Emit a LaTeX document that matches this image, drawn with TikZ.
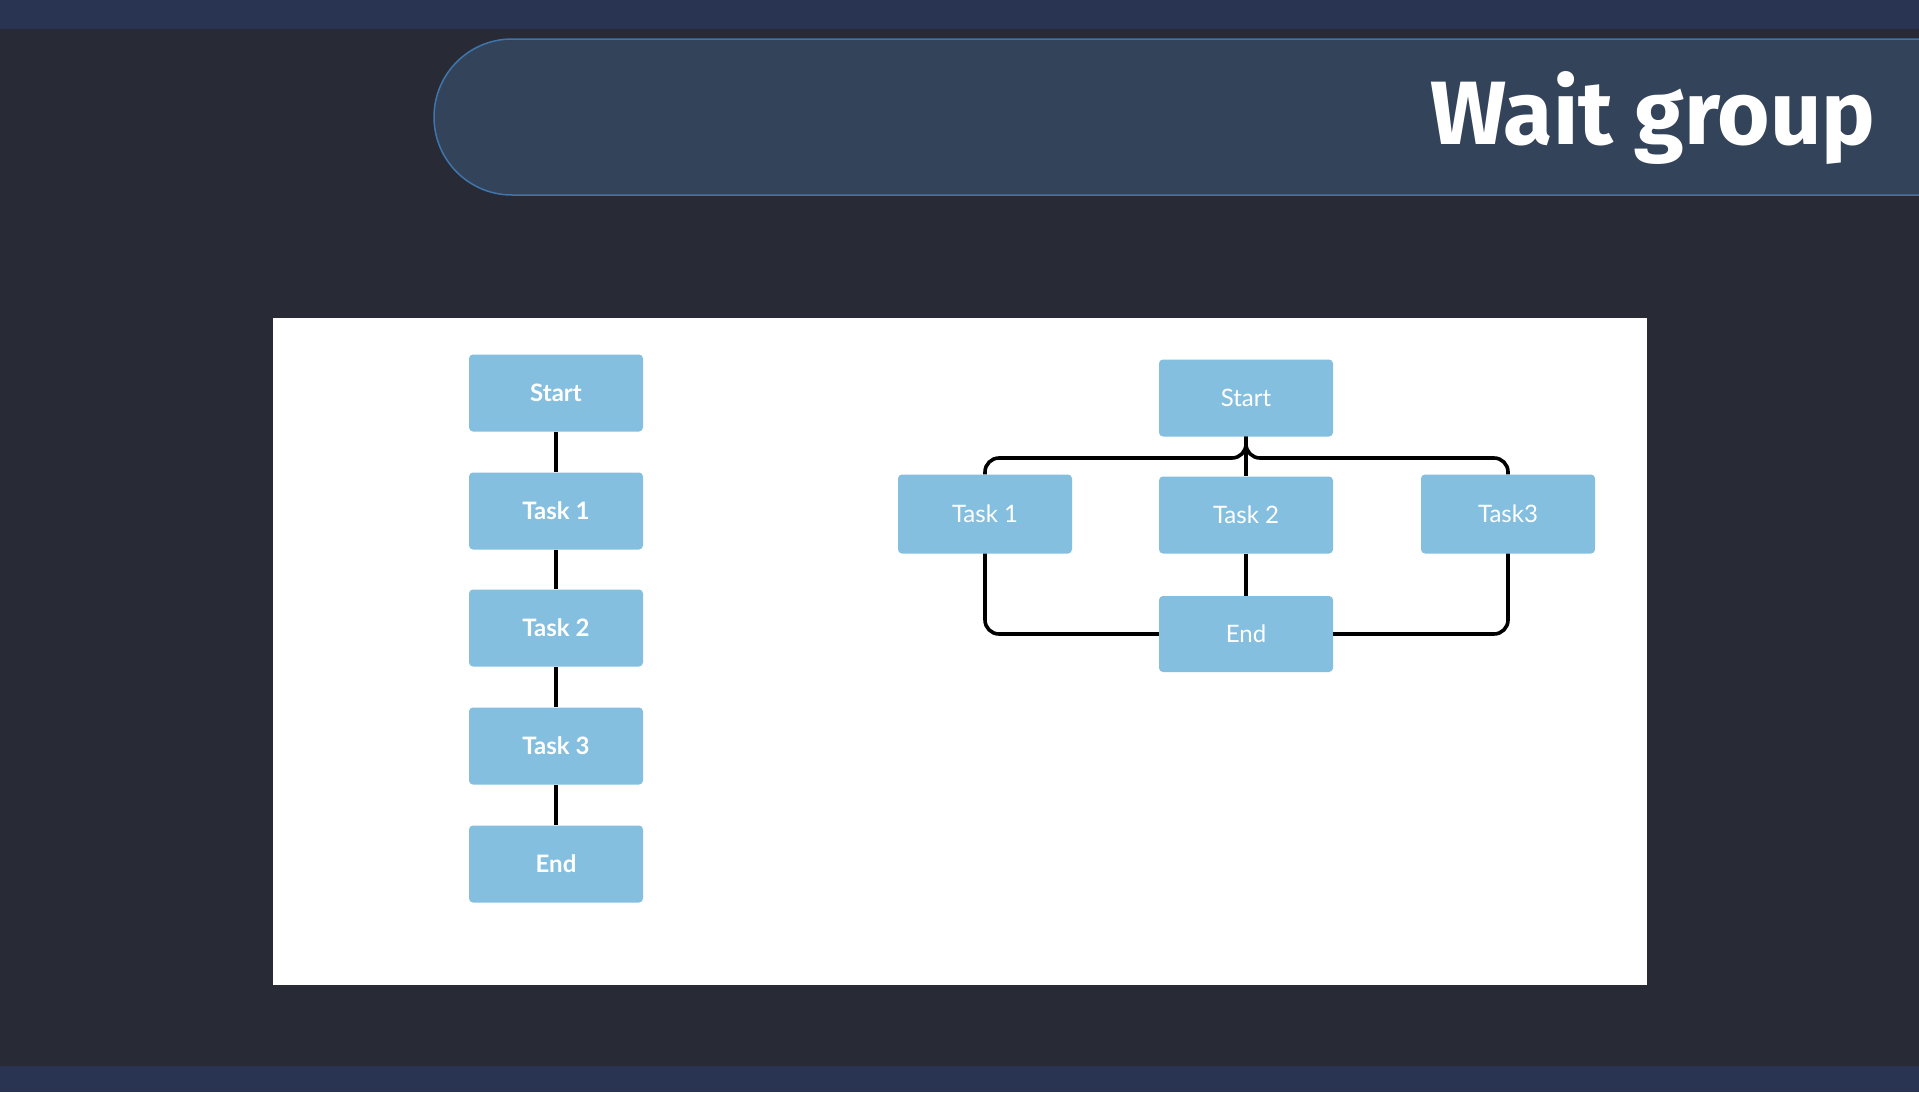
\documentclass[tikz,border=0pt]{standalone}
\usepackage{fontspec}
\setmainfont{Lato}
\newfontfamily\titlefont{Fira Sans}
\begin{document}
\begin{tikzpicture}[x=1pt,y=-1pt,
  box/.style={fill=boxblue,rounded corners=4pt,minimum width=174pt,minimum height=77pt,inner sep=0pt,text=white,font=\fontsize{24}{28}\selectfont\bfseries},
  boxr/.style={box,font=\fontsize{24}{28}\selectfont},
  line/.style={draw=black,line width=3.6pt},
  link/.style={line,rounded corners=14pt}]
\definecolor{bg}{HTML}{282A35}
\definecolor{barc}{HTML}{293453}
\definecolor{pillfill}{HTML}{33435A}
\definecolor{pilldraw}{HTML}{3F75AC}
\definecolor{boxblue}{HTML}{85BFDF}
\useasboundingbox (0,0) rectangle (1919,1092);
\fill[bg] (0,0) rectangle (1919,1092);
\fill[barc] (0,0) rectangle (1919,29);
\fill[barc] (0,1066) rectangle (1919,1092);
% title pill
\path[fill=pillfill,draw=pilldraw,line width=1.5pt]
  (1925,39) -- (512,39) arc[start angle=-90,end angle=-270,radius=78] -- (1925,195);
\node[anchor=base west,inner sep=0pt,text=white,font=\titlefont\fontsize{90}{92}\selectfont\bfseries] (title) at (1430,144) {Wait group};
% white panel
\fill[white] (273,318) rectangle (1647,985);
% left chain
\node[box] (ls) at (556,393) {Start};
\node[box] (l1) at (556,511) {Task 1};
\node[box] (l2) at (556,628) {Task 2};
\node[box] (l3) at (556,746) {Task 3};
\node[box] (le) at (556,864) {End};
\draw[line] (ls) -- (l1);
\draw[line] (l1) -- (l2);
\draw[line] (l2) -- (l3);
\draw[line] (l3) -- (le);
% right graph
\node[boxr] (rs) at (1246,398) {Start};
\node[boxr,minimum height=79pt] (r1) at (985,514) {Task 1};
\node[boxr] (r2) at (1246,515) {Task 2};
\node[boxr,minimum height=79pt] (r3) at (1508,514) {Task3};
\node[boxr,minimum height=76pt] (re) at (1246,634) {End};
\draw[link] (rs.south) -- (1246,458) -| (r1.north);
\draw[link] (rs.south) -- (1246,458) -| (r3.north);
\draw[line] (rs.south) -- (r2.north);
\draw[line] (r2.south) -- (re.north);
\draw[link] (r1.south) |- (re.west);
\draw[link] (r3.south) |- (re.east);
\end{tikzpicture}
\end{document}
